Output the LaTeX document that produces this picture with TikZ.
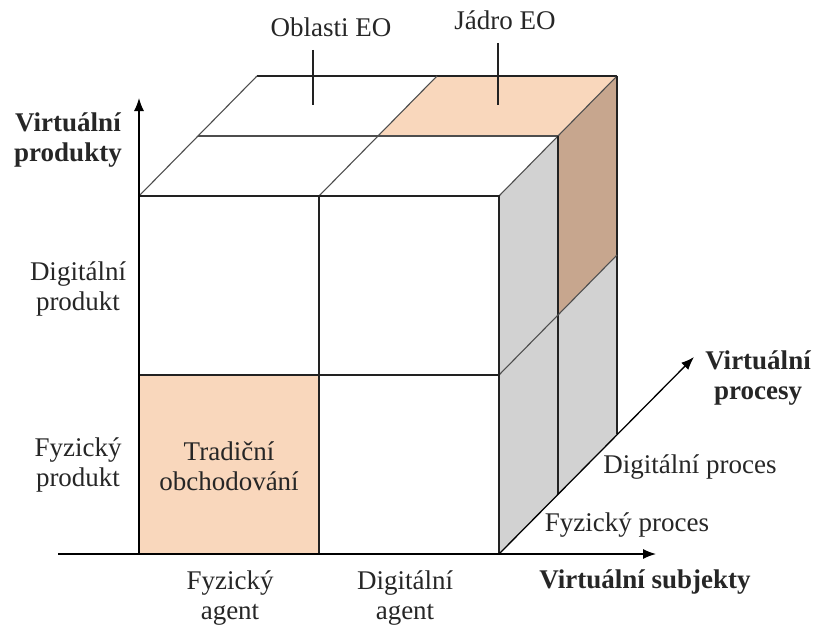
\documentclass[tikz,border=0pt]{standalone}
\usepackage{fontspec}
\setmainfont{Liberation Serif}
\usetikzlibrary{arrows.meta}
\definecolor{eoorange}{HTML}{F9D7BC}
\definecolor{eobrown}{HTML}{C7A68E}
\definecolor{eogray}{HTML}{D2D2D2}
\definecolor{eoline}{HTML}{222222}
\tikzset{
  edge/.style={draw=eoline, line width=1.3pt},
  thinedge/.style={draw=eoline!80, line width=1.1pt},
  axis/.style={draw=black, line width=1.3pt, -{Latex[length=13pt,width=10pt]}},
  lbl/.style={font=\fontsize{27}{30}\selectfont, align=center, inner sep=0pt, text=black!85},
  blbl/.style={lbl, font=\fontsize{27}{30}\selectfont\bfseries},
  tick/.style={draw=eoline, line width=1.3pt}
}
\begin{document}
\begin{tikzpicture}[x=1pt, y=-1pt]
\useasboundingbox (0,0) rectangle (814,626);
% helper coordinates: top face P(i,j), right face R(j,k)
\foreach \i in {0,1,2}{\foreach \j in {0,1,2}{
  \coordinate (P\i\j) at ({139+180*\i+59*\j},{196-60*\j});
}}
\foreach \j in {0,1,2}{\foreach \k in {0,1,2}{
  \coordinate (R\j\k) at ({499+59*\j},{196-60*\j+179*\k});
}}
\coordinate (F00) at (139,196);
\coordinate (F10) at (319,196);
\coordinate (F01) at (139,375);
\coordinate (F11) at (319,375);
\coordinate (F21) at (499,375);
\coordinate (F02) at (139,554);
\coordinate (F12) at (319,554);
\coordinate (F22) at (499,554);
% fills
\fill[eoorange] (P11) -- (P12) -- (P22) -- (P21) -- cycle;
\fill[eobrown] (R10) -- (R20) -- (R21) -- (R11) -- cycle;
\fill[eogray] (R00) -- (R10) -- (R11) -- (R21) -- (R22) -- (R02) -- cycle;
\fill[eoorange] (F01) -- (F11) -- (F12) -- (F02) -- cycle;
% top face
\draw[thinedge] (P01) -- (P21);
\draw[edge] (P02) -- (P22);
\draw[thinedge] (P00) -- (P02);
\draw[thinedge] (P10) -- (P12);
\draw[thinedge] (P20) -- (P22);
% right face
\draw[edge] (R10) -- (R12);
\draw[edge] (R20) -- (R22);
\draw[thinedge] (R01) -- (R21);
% front face
\draw[edge] (F00) -- (P20) -- (F22);
\draw[edge] (F10) -- (F12);
\draw[edge] (F01) -- (F21);
% axes
\coordinate (yEnd) at (139,98);
\coordinate (xStart) at (58,554);
\coordinate (xEnd) at (656,554);
\coordinate (zEnd) at (694,357);
\draw[axis] (F02) -- (yEnd);
\draw[axis] (xStart) -- (xEnd);
\draw[axis] (F22) -- (zEnd);
% labels
\node[lbl, anchor=base] (oblasti) at (331,37) {Oblasti EO};
\node[lbl, anchor=base] (jadro) at (505,30) {Jádro EO};
\coordinate (oblastiC) at (313,105);
\coordinate (jadroC) at (498,105);
\draw[tick] (313,50) -- (oblastiC);
\draw[tick] (498,43) -- (jadroC);
\node[blbl] (vprod) at (68,140) {Virtuální\\produkty};
\node[lbl] (dprod) at (78,289) {Digitální\\produkt};
\node[lbl] (fprod) at (78,465) {Fyzický\\produkt};
\node[lbl] (trad) at (229,466) {Tradiční\\obchodování};
\node[lbl] (fagent) at (230,598) {Fyzický\\agent};
\node[lbl] (dagent) at (405,598) {Digitální\\agent};
\node[blbl] (vsubj) at (645,582) {Virtuální subjekty};
\node[lbl] (fproc) at (627,525) {Fyzický proces};
\node[lbl] (dproc) at (690,467) {Digitální proces};
\node[blbl] (vproc) at (758,378) {Virtuální\\procesy};
\end{tikzpicture}
\end{document}
